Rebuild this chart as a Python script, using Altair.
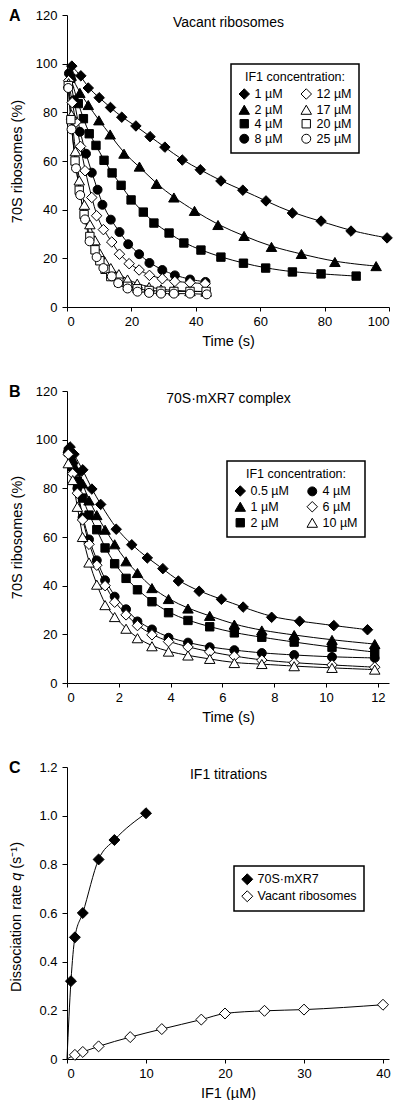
import altair as alt
import pandas as pd

FONT = "Liberation Sans"

# ---------------- Panel A: vacant ribosomes (time in s, 70S %) ----------------
A_1_t = [1.5, 4.3, 6.6, 10, 13.5, 17, 21.4, 25.8, 30.4, 35.8, 41.4, 47.8, 54.6, 61.8, 70, 78.9, 88.2, 99.4]
A_1_v = [99, 95, 90, 86, 82, 78, 74.4, 70, 65.7, 60.4, 56.4, 51.8, 48, 43.6, 38.6, 35.3, 31.2, 28.4]
A_2_t = [1.3, 4, 6.6, 9.9, 13.4, 17.7, 22.5, 27.8, 33.2, 39.6, 46.9, 55, 63.5, 72.8, 83.2, 96]
A_2_v = [95, 88, 83, 76.7, 70.9, 63, 57.7, 50.6, 45, 39.5, 33.7, 29.2, 24.7, 21.8, 18.5, 16.8]
A_4_t = [1.2, 3.5, 5.1, 6.9, 9, 11.5, 14, 16.8, 19.9, 23.7, 27, 31.7, 36.3, 41.6, 47.8, 54.8, 61.7, 70, 78.9, 89.8]
A_4_v = [94, 83.6, 77.4, 71.2, 66.4, 60.3, 55.1, 50, 44, 39, 34.5, 30.4, 26.3, 23.4, 20.5, 18, 16, 14.4, 13.6, 12.7]
A_8_t = [0.6, 2.2, 4, 5.9, 7.7, 9.5, 11, 13.6, 16.3, 19, 22.4, 25.6, 29.6, 33.5, 38.2, 43]
A_8_v = [96, 85, 72, 63, 55.2, 48.2, 42, 35.9, 30.8, 25.8, 21.7, 18.1, 15.2, 13, 11.3, 10.3]
A_12_t = [0.5, 1.6, 2.8, 4.2, 5.6, 7.7, 9.2, 11.3, 13.9, 16.3, 19.3, 22.4, 25.6, 29.6, 33.5, 38.2, 42.9]
A_12_v = [93, 84, 76, 66, 56, 45, 37.5, 31.8, 26.7, 21.7, 17.8, 15.2, 13, 11.6, 10.5, 10, 9.6]
A_17_t = [0.5, 1.4, 2.6, 3.8, 5.4, 7.1, 8.7, 10.2, 11.8, 13.6, 16.1, 18.8, 21.8, 25.5, 29.2, 33.2, 38.2, 43.2]
A_17_v = [92, 79, 64, 52, 42, 34, 27.4, 22, 18.5, 16, 13.5, 11.3, 9.6, 8.2, 7.3, 6.8, 6.5, 6.3]
A_20_t = [0.4, 1.2, 2.5, 3.8, 5.3, 7.1, 8.7, 10.2, 11.8, 13.6, 16.1, 18.8, 21.8, 25.5, 29.2, 33.2, 38.2, 43.2]
A_20_v = [91, 77, 60, 48, 38, 29, 23.5, 19, 15.5, 12.5, 10.2, 8.5, 7.5, 6.8, 6.5, 6.4, 6.4, 6.4]
A_25_t = [0.4, 1.4, 2.8, 4.1, 5.6, 7, 9.2, 11.3, 13.9, 15.9, 18.8, 21.9, 25.5, 29.2, 33.2, 38.2, 43.4]
A_25_v = [90, 73, 57, 46, 36, 27, 20.5, 16, 12.6, 9.8, 7.6, 6.3, 5.8, 5.5, 5.5, 5.5, 5.2]

A_NAMES = ["1 µM", "2 µM", "4 µM", "8 µM", "12 µM", "17 µM", "20 µM", "25 µM"]
A_T = [A_1_t, A_2_t, A_4_t, A_8_t, A_12_t, A_17_t, A_20_t, A_25_t]
A_V = [A_1_v, A_2_v, A_4_v, A_8_v, A_12_v, A_17_v, A_20_v, A_25_v]
A_SHAPE = ["diamond", "triangle-up", "square", "circle", "diamond", "triangle-up", "square", "circle"]
A_FILL = ["black", "black", "black", "black", "white", "white", "white", "white"]

# ---------------- Panel B: 70S·mXR7 complex ----------------
B_05_t = [0.12, 0.27, 0.61, 0.96, 1.3, 1.9, 2.5, 3.1, 3.7, 4.3, 5.1, 5.96, 6.8, 7.9, 8.98, 10.3, 11.6]
B_05_v = [97, 94, 87.6, 79.7, 73.4, 63.2, 56.8, 51.4, 47, 41.9, 37.7, 34.4, 31.2, 27, 25.4, 23.6, 21.9]
B_TIME = [0.05, 0.22, 0.4, 0.6, 0.85, 1.15, 1.47, 1.84, 2.28, 2.72, 3.28, 3.92, 4.67, 5.51, 6.46, 7.52, 8.77, 10.23, 11.88]
B_1_v = [96.5, 92, 87, 82, 75, 69, 63, 57, 50, 45.2, 39, 34.5, 30.6, 27.6, 24, 21.6, 19.7, 17.7, 16]
B_2_v = [95, 89, 83, 76, 69, 63, 55.5, 49, 43, 38.3, 33.4, 28.9, 25.7, 23.1, 20.6, 18.8, 16.8, 14.7, 12.7]
B_4_v = [95, 88, 80, 68, 59, 50.4, 42.2, 35.5, 30.3, 25.3, 22, 18.6, 16.6, 14.7, 13.5, 12.3, 11.5, 10.7, 10.3]
B_6_v = [94, 86, 78, 67, 57, 48.4, 40, 33.2, 28, 23.6, 19.8, 17, 14.8, 12.8, 11, 9.4, 8.3, 7.4, 6.5]
B_10_v = [90.3, 83.4, 72.4, 60, 49.5, 40.4, 32, 27.1, 22.3, 18.4, 15.1, 12.9, 11.3, 9.9, 8.2, 7.8, 6.9, 6.2, 5.5]

B_NAMES = ["0.5 µM", "1 µM", "2 µM", "4 µM", "6 µM", "10 µM"]
B_T = [B_05_t, B_TIME, B_TIME, B_TIME, B_TIME, B_TIME]
B_V = [B_05_v, B_1_v, B_2_v, B_4_v, B_6_v, B_10_v]
B_SHAPE = ["diamond", "triangle-up", "square", "circle", "diamond", "triangle-up"]
B_FILL = ["black", "black", "black", "black", "white", "white"]

# ---------------- Panel C: IF1 titrations ----------------
C_MX_x = [0.5, 1, 2, 4, 6, 10]
C_MX_q = [0.32, 0.50, 0.60, 0.82, 0.90, 1.01]
C_VAC_x = [1, 2, 4, 8, 12, 17, 20, 25, 30, 40]
C_VAC_q = [0.017, 0.029, 0.052, 0.09, 0.123, 0.162, 0.187, 0.198, 0.203, 0.223]
C_NAMES = ["70S·mXR7", "Vacant ribosomes"]
C_FILL = ["black", "white"]

SIZE = {"diamond": 110, "triangle-up": 110, "square": 70, "circle": 80}


def build(names, ts, vs):
    rows = []
    for n, t, v in zip(names, ts, vs):
        for a, b in zip(t, v):
            rows.append({"series": n, "t": a, "v": b})
    return pd.DataFrame(rows)


def text_layer(txt, x, y, size=14, weight="normal", align="center", angle=0, style="normal"):
    return alt.Chart(pd.DataFrame({"txt": [txt]})).mark_text(
        font=FONT, fontSize=size, fontWeight=weight, fontStyle=style, align=align,
        baseline="middle", color="black", angle=angle
    ).encode(x=alt.value(x), y=alt.value(y), text="txt:N")


W, H = 322, 292
TFS = 14.5
AX = dict(grid=False, domainColor="black", tickColor="black", labelColor="black", titleColor="black",
          labelFont=FONT, titleFont=FONT, labelFontSize=13, titleFontSize=TFS, titleFontWeight="normal",
          domainWidth=1, tickWidth=1)


def panel(df, names, shapes, fills, xdom, xvals, xtitle, ydom, yvals, ytitle,
          legend, title, letter, interp="basis", line_df=None, ylabel_expr=None, size_override=None,
          extra=()):
    order = names
    smap = dict(zip(names, shapes))
    fmap = dict(zip(names, fills))
    shape_range = [smap[n] for n in order]
    fill_range = [fmap[n] for n in order]
    size_range = [size_override or SIZE[smap[n]] for n in order]
    xenc = alt.X("t:Q", scale=alt.Scale(domain=xdom, nice=False, zero=True),
                 axis=alt.Axis(values=xvals, title=xtitle, tickSize=4, labelPadding=4,
                               minExtent=21, maxExtent=21, titlePadding=6, **AX))
    yaxis_kw = dict(values=yvals, title=ytitle, tickSize=5, labelPadding=5,
                    minExtent=33, maxExtent=33, titlePadding=10, **AX)
    if ylabel_expr:
        yaxis_kw["labelExpr"] = ylabel_expr
    yenc = alt.Y("v:Q", scale=alt.Scale(domain=ydom, nice=False, zero=True), axis=alt.Axis(**yaxis_kw))
    ldata = df if line_df is None else line_df
    lines = alt.Chart(ldata).mark_line(color="black", strokeWidth=1, interpolate=interp).encode(
        x=xenc, y=yenc, detail="series:N", order="t:Q")
    points = alt.Chart(df).mark_point(strokeWidth=1, opacity=1, fillOpacity=1, strokeOpacity=1).encode(
        x="t:Q", y="v:Q",
        shape=alt.Shape("series:N", scale=alt.Scale(domain=order, range=shape_range), legend=legend),
        fill=alt.Fill("series:N", scale=alt.Scale(domain=order, range=fill_range), legend=legend),
        stroke=alt.Stroke("series:N", scale=alt.Scale(domain=order, range=["black"] * len(order)), legend=legend),
        size=alt.Size("series:N", scale=alt.Scale(type="ordinal", domain=order, range=size_range), legend=legend),
    )
    return alt.layer(
        lines, points,
        text_layer(title, 161.5, 8),
        text_layer(letter, -58, 1, size=16, weight="bold", align="left"),
        *extra,
    ).properties(width=W, height=H)


def legend_box(x, y, columns, title=None):
    kw = dict(orient="none", legendX=x, legendY=y, columns=columns, fillColor="white",
              strokeColor="black", padding=7, rowPadding=1, columnPadding=16, labelOffset=4,
              labelFont=FONT, labelFontSize=12.5, labelColor="black",
              symbolStrokeColor="black", symbolStrokeWidth=1, symbolOpacity=1)
    if title:
        kw.update(title=title, titleFont=FONT, titleFontSize=12.5, titleFontWeight="normal",
                  titleColor="black", titleAnchor="middle", titlePadding=4)
    else:
        kw.update(title=None)
    return alt.Legend(**kw)


dfA = build(A_NAMES, A_T, A_V)
dfB = build(B_NAMES, B_T, B_V)
dfC = build(C_NAMES, [C_MX_x, C_VAC_x], [C_MX_q, C_VAC_q])
dfC_line = build(C_NAMES, [[0] + C_MX_x, [0] + C_VAC_x], [[0] + C_MX_q, [0] + C_VAC_q])

# Panel C y-axis title with italic "q", drawn as three rotated text pieces
em = TFS
w1 = 7.391 * em          # "Dissociation rate"
gap = 0.278 * em         # a space
w2 = 0.556 * em          # "q"
total = w1 + gap + w2 + gap + 2.4 * em
y0 = H / 2 + total / 2
title_x = -50
c_title = [
    text_layer("Dissociation rate", title_x, y0, size=TFS, align="left", angle=270),
    text_layer("q", title_x, y0 - w1 - gap, size=TFS, align="left", angle=270, style="italic"),
    text_layer("(s⁻¹)", title_x, y0 - w1 - gap - w2 - gap, size=TFS, align="left", angle=270),
]

chartA = panel(dfA, A_NAMES, A_SHAPE, A_FILL, [0, 100], [0, 20, 40, 60, 80, 100], "Time (s)",
               [0, 120], [0, 20, 40, 60, 80, 100, 120], "70S ribosomes (%)",
               legend_box(164, 49, 2, "IF1 concentration:"), "Vacant ribosomes", "A")
chartB = panel(dfB, B_NAMES, B_SHAPE, B_FILL, [0, 12.43], [0, 2, 4, 6, 8, 10, 12], "Time (s)",
               [0, 120], [0, 20, 40, 60, 80, 100, 120], "70S ribosomes (%)",
               legend_box(160, 70, 2, "IF1 concentration:"), "70S·mXR7 complex", "B")
chartC = panel(dfC, C_NAMES, ["diamond", "diamond"], C_FILL, [0, 40.76], [0, 10, 20, 30, 40], "IF1 (µM)",
               [0, 1.2], [0, 0.2, 0.4, 0.6, 0.8, 1.0, 1.2], None,
               legend_box(167, 99, 1), "IF1 titrations", "C", interp="monotone", line_df=dfC_line,
               ylabel_expr="datum.value == 0 ? '0' : format(datum.value, '.1f')", size_override=120,
               extra=c_title)

chart = alt.vconcat(chartA, chartB, chartC, spacing=36).resolve_scale(
    shape="independent", fill="independent", stroke="independent", size="independent"
).resolve_legend(
    shape="independent", fill="independent", stroke="independent", size="independent"
).properties(padding=0).configure_view(stroke=None).configure_legend(strokeWidth=1.5)

chart.save("out.html", embed_options={"renderer": "svg", "actions": False})
